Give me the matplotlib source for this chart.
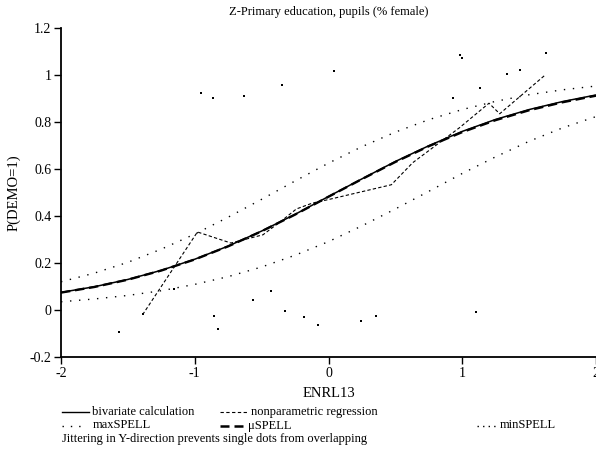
import matplotlib
matplotlib.use("Agg")
from matplotlib import pyplot as plt
from matplotlib.lines import Line2D

plt.rcParams['font.family'] = ['Liberation Serif', 'DejaVu Serif']

# curve values, x in steps of 0.25
grid_x = [-2, -1.75, -1.5, -1.25, -1, -0.75, -0.5, -0.25, 0,
          0.25, 0.5, 0.75, 1, 1.25, 1.5, 1.75, 2]
bivariate = [0.075, 0.099, 0.130, 0.169, 0.216, 0.272, 0.336, 0.407, 0.483,
             0.558, 0.632, 0.699, 0.760, 0.811, 0.853, 0.887, 0.915]
mu_spell = [0.074, 0.098, 0.129, 0.168, 0.215, 0.271, 0.335, 0.406, 0.482,
            0.557, 0.630, 0.697, 0.757, 0.808, 0.850, 0.884, 0.912]
max_spell = [0.120, 0.157, 0.203, 0.259, 0.323, 0.395, 0.471, 0.549, 0.625,
             0.695, 0.757, 0.810, 0.853, 0.888, 0.916, 0.937, 0.953]
min_spell = [0.035, 0.047, 0.062, 0.082, 0.109, 0.142, 0.183, 0.233, 0.291,
             0.358, 0.430, 0.505, 0.581, 0.652, 0.718, 0.775, 0.823]

# nonparametric regression
np_x = [-1.39, -0.98, -0.73, -0.49, -0.35, -0.24, -0.12, 0.0, 0.47, 0.63, 0.98, 1.2, 1.28, 1.62]
np_y = [-0.02, 0.332, 0.285, 0.32, 0.38, 0.43, 0.455, 0.47, 0.533, 0.627, 0.776, 0.88, 0.835, 1.0]

# jittered observations
dots_x = [-0.95, -0.863, -0.634, -0.346, 0.04, 0.982, 1.0, 0.932, 1.135, 1.332, 1.433, 1.628,
          -1.565, -1.39, -1.155, -0.853, -0.828, -0.565, -0.432, -0.328, -0.184, -0.082,
          0.244, 0.358, 1.104]
dots_y = [0.925, 0.902, 0.912, 0.957, 1.016, 1.087, 1.072, 0.902, 0.946, 1.004, 1.023, 1.095,
          -0.094, -0.018, 0.089, -0.026, -0.079, 0.041, 0.079, -0.006, -0.031, -0.063,
          -0.048, -0.024, -0.007]

yticks = [-0.2, 0, 0.2, 0.4, 0.6, 0.8, 1, 1.2]
ytick_labels = ['-0.2', '0', '0.2', '0.4', '0.6', '0.8', '1', '1.2']
xticks = [-2, -1, 0, 1, 2]
xtick_labels = ['-2', '-1', '0', '1', '2']

W, H = 596, 450
fig = plt.figure(figsize=(W / 100, H / 100), dpi=100)
ax = fig.add_axes([61 / W, 93 / H, 1 - 61 / W, (357 - 28) / H])

ax.plot(grid_x, bivariate, color='black', lw=1.1, solid_capstyle='butt')
ax.plot(grid_x, mu_spell, color='black', lw=1.7, dashes=(4, 2))
ax.plot(grid_x, max_spell, color='black', lw=1.0, dashes=(1, 5.5))
ax.plot(grid_x, min_spell, color='black', lw=1.0, dashes=(1, 5.5))
ax.plot(np_x, np_y, color='black', lw=0.8, dashes=(3, 2))
ax.scatter(dots_x, dots_y, s=4, marker='s', color='black', linewidths=0)

ax.set_xlim(-2, 2)
ax.set_ylim(-0.2, 1.2)
ax.set_xticks(xticks, xtick_labels)
ax.set_yticks(yticks, ytick_labels)
ax.tick_params(labelsize=10, length=5, width=1.0, pad=2, colors='black')
ax.spines["top"].set_visible(False)
ax.spines["right"].set_visible(False)
ax.spines["left"].set_linewidth(1.3)
ax.spines["bottom"].set_linewidth(1.3)

ax.set_xlabel('ENRL13', fontsize=10.5)
ax.set_ylabel('P(DEMO=1)', fontsize=10.5)
ax.xaxis.set_label_coords((329 - 61) / 536, (357 - 387) / 329)
ax.yaxis.set_label_coords((21 - 61) / 536, 0.5)

fig.text(329 / W, 1 - 12 / H, 'Z-Primary education, pupils (% female)',
         ha='center', va='center', fontsize=9)


# legend below the plot, drawn in pixel positions of the figure
def fx(px):
    return px / W


def fy(py):
    return 1 - py / H


rows = [412, 425.5, 439]
legend_items = [
    (61.7, 89.3, 91.7, rows[0], dict(lw=1.0), 'bivariate calculation'),
    (220, 248.3, 251, rows[0], dict(lw=0.8, dashes=(3, 2.2)), 'nonparametric regression'),
    (61.7, 85, 93, rows[1], dict(lw=1.0, dashes=(1, 5)), 'maxSPELL'),
    (220, 243, 248.3, rows[1], dict(lw=1.8, dashes=(3.6, 2.0)), 'μSPELL'),
    (476.7, 496.7, 500, rows[1], dict(lw=1.0, dashes=(1, 3)), 'minSPELL'),
]
for x0, x1, tx, ry, style, label in legend_items:
    fig.add_artist(Line2D([fx(x0), fx(x1)], [fy(ry), fy(ry)], color='black',
                          transform=fig.transFigure, **style))
    fig.text(fx(tx), fy(ry), label, ha='left', va='center', fontsize=9)

fig.text(fx(61.7), fy(rows[2]), 'Jittering in Y-direction prevents single dots from overlapping',
         ha='left', va='center', fontsize=9)

fig.savefig('out.png', dpi=100)
plt.close(fig)
